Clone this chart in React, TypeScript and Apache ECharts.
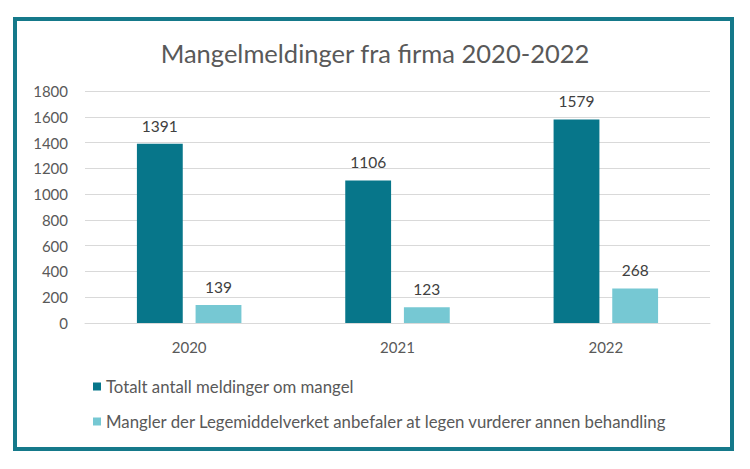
import React, { useEffect, useRef } from "react";
import * as echarts from "echarts";

const title = "Mangelmeldinger fra firma 2020-2022";
const categories = ["2020", "2021", "2022"];
const seriesNames = [
  "Totalt antall meldinger om mangel",
  "Mangler der Legemiddelverket anbefaler at legen vurderer annen behandling",
];
const totalValues = [1391, 1106, 1579];
const recommendedValues = [139, 123, 268];
const yTicks = { min: 0, max: 1800, interval: 200 };

const FONT = "Lato";

export default function App() {
  const ref = useRef<HTMLDivElement>(null);
  useEffect(() => {
    if (!ref.current) return;
    const chart = echarts.init(ref.current, undefined, { renderer: "svg" });
    chart.setOption({
      animation: false,
      backgroundColor: "#ffffff",
      textStyle: { fontFamily: FONT },
      graphic: [
        {
          type: "rect",
          shape: { x: 15, y: 19, width: 717, height: 430 },
          style: { fill: "#ffffff", stroke: "#15798A", lineWidth: 4 },
          z: -10,
          silent: true,
        },
      ],
      title: {
        text: title,
        left: "center",
        top: 35,
        textStyle: { fontFamily: FONT, fontSize: 25.5, fontWeight: "normal", color: "#595959" },
      },
      grid: { left: 85, right: 40, top: 91, bottom: 146, containLabel: false },
      legend: {
        orient: "vertical",
        left: 88,
        top: 373,
        itemWidth: 8,
        itemHeight: 8,
        itemGap: 18,
        icon: "rect",
        textStyle: { fontFamily: FONT, fontSize: 16.8, color: "#595959" },
        data: seriesNames,
      },
      xAxis: {
        type: "category",
        data: categories,
        axisTick: { show: false },
        axisLine: { lineStyle: { color: "#D9D9D9", width: 1 } },
        axisLabel: { margin: 16, fontSize: 15, color: "#595959", fontFamily: FONT },
      },
      yAxis: {
        type: "value",
        min: yTicks.min,
        max: yTicks.max,
        interval: yTicks.interval,
        axisLabel: {
          margin: 17,
          fontSize: 15,
          color: "#595959",
          fontFamily: FONT,
          formatter: (v: number) => String(v),
        },
        splitLine: { lineStyle: { color: "#D9D9D9", width: 1 } },
        axisLine: { show: false },
        axisTick: { show: false },
      },
      series: [
        {
          name: seriesNames[0],
          type: "bar",
          data: totalValues,
          barWidth: "22%",
          barGap: "28%",
          itemStyle: { color: "#07768A" },
          label: { show: true, position: "top", distance: 10, fontSize: 15.5, color: "#404040", fontFamily: FONT },
        },
        {
          name: seriesNames[1],
          type: "bar",
          data: recommendedValues,
          barWidth: "22%",
          itemStyle: { color: "#76C8D3" },
          label: { show: true, position: "top", distance: 10, fontSize: 15.5, color: "#404040", fontFamily: FONT },
        },
      ],
    });
    return () => chart.dispose();
  }, []);
  return (
    <div
      ref={ref}
      style={{ position: "fixed", left: 0, top: 0, width: 750, height: 469 }}
    />
  );
}
